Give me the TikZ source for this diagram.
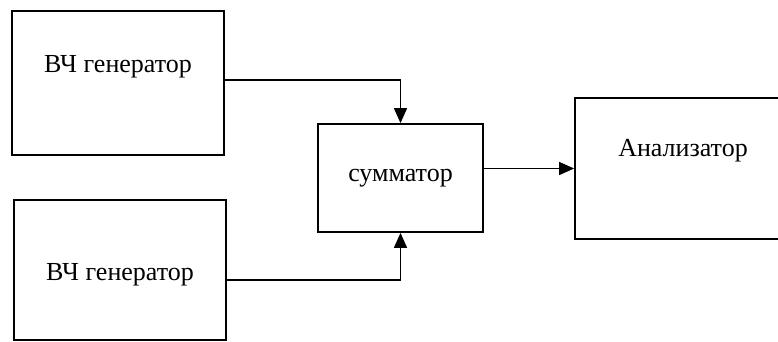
\documentclass[tikz,border=0pt]{standalone}
\usepackage{fontspec}
\setmainfont{Liberation Serif}
\usetikzlibrary{arrows.meta}
\tikzset{block/.style={draw, rectangle, inner sep=0pt, line width=1.8pt},
  link/.style={line width=1.6pt, -{Triangle[length=15pt,width=13pt]}}}

\begin{document}
\begin{tikzpicture}[x=1pt, y=-1pt, font=\fontsize{26}{30}\selectfont]
      \clip (0, 0) rectangle (778, 341);
      \fill [white] (0, 0) rectangle (778, 341);

      \node [block, minimum width=212pt, minimum height=144pt, label={[yshift=16pt]center:ВЧ генератор}] (gen1) at (118, 83) {};
      \node [block, minimum width=212pt, minimum height=140pt, label={[yshift=-5pt]center:ВЧ генератор}] (gen2) at (120, 270) {};
      \node [block, minimum width=165pt, minimum height=108pt] (sum) at (400.5, 178) {сумматор};
      \node [block, minimum width=216pt, minimum height=141pt, label={[yshift=18pt]center:Анализатор}] (ana) at (683, 168.5) {};

      \draw [link] ([yshift=3pt]gen1.east) -| (sum.north);
      \draw [link] ([yshift=-10pt]gen2.east) -| (sum.south);
      \draw [link] (sum.east |- ana.west) -- (ana.west);
    \end{tikzpicture}
\end{document}
